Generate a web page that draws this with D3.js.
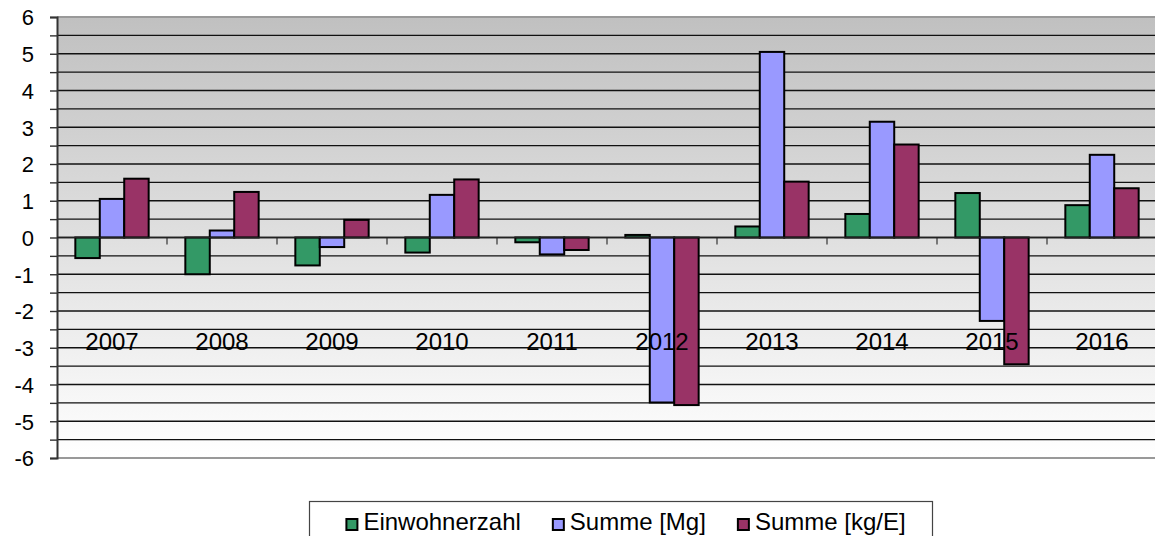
<!DOCTYPE html>
<html><head><meta charset="utf-8">
<script src="https://cdn.jsdelivr.net/npm/d3@7"></script>
<style>html,body{margin:0;padding:0;background:#fff;overflow:hidden}svg{display:block}</style>
</head><body>
<svg id="c" width="1155" height="536"></svg>
<script>
const years = ["2007","2008","2009","2010","2011","2012","2013","2014","2015","2016"];
const seriesNames = ["Einwohnerzahl","Summe [Mg]","Summe [kg/E]"];
const einwohnerzahl = [-0.56,-1.0,-0.76,-0.41,-0.13,0.07,0.30,0.64,1.21,0.88];
const summeMg       = [1.05,0.19,-0.26,1.16,-0.46,-4.49,5.05,3.15,-2.27,2.25];
const summeKgE      = [1.60,1.24,0.48,1.58,-0.34,-4.56,1.52,2.53,-3.45,1.34];
const yTicks = [-6,-5,-4,-3,-2,-1,0,1,2,3,4,5,6];
const colors = ["#339966","#9999FF","#993366"];
const seriesValues = [einwohnerzahl, summeMg, summeKgE];

const svg = d3.select("#c");
const L = 57, R = 1157, T = 17, B = 458;
const x0 = d3.scaleBand().domain(years).range([L, R]).padding(0);
const x1 = d3.scaleBand().domain(seriesNames).range([0, x0.bandwidth()]).paddingInner(0).paddingOuter(0.75);
const y = d3.scaleLinear().domain([-6, 6]).range([B, T]);
const FONT = "Liberation Sans, Arial, sans-serif";

// background gradient
const defs = svg.append("defs");
const g = defs.append("linearGradient").attr("id","bg").attr("x1",0).attr("y1",0).attr("x2",0).attr("y2",1);
g.append("stop").attr("offset","0%").attr("stop-color","#c0c0c0");
g.append("stop").attr("offset","100%").attr("stop-color","#ffffff");
svg.append("rect").attr("x",L).attr("y",T).attr("width",R-L).attr("height",B-T).attr("fill","url(#bg)");

// gridlines every 0.5
const gridVals = d3.range(-12, 13).map(d => d/2);
svg.append("g").selectAll("line").data(gridVals.filter(v => v > -6 && v < 6)).join("line")
  .attr("x1", L).attr("x2", R).attr("y1", d => y(d)).attr("y2", d => y(d))
  .attr("stroke", "#111").attr("stroke-width", 1.4);
// top & bottom border
svg.append("g").selectAll("line").data([-6, 6]).join("line")
  .attr("x1", L).attr("x2", R).attr("y1", d => y(d)).attr("y2", d => y(d))
  .attr("stroke", "#999").attr("stroke-width", 2.2);

// y axis
const yAxis = d3.axisLeft(y).tickValues(gridVals).tickSize(7).tickFormat(d => yTicks.includes(d) ? String(d) : "");
const ya = svg.append("g").attr("transform", `translate(${L},0)`).call(yAxis);
ya.select(".domain").attr("stroke", "#333").attr("stroke-width", 2);
ya.selectAll(".tick line").attr("stroke", "#333").attr("stroke-width", 1.4);
ya.selectAll(".tick text").attr("font-family", FONT).attr("font-size", 22).attr("fill", "#000").attr("x", -23).attr("dy", "0.36em");

// category ticks at zero line
svg.append("g").selectAll("line").data(years.slice(1)).join("line")
  .attr("x1", d => x0(d)).attr("x2", d => x0(d)).attr("y1", y(0)).attr("y2", y(0) + 7)
  .attr("stroke", "#333").attr("stroke-width", 1.2);

// bars
const groups = svg.append("g").selectAll("g").data(years).join("g")
  .attr("transform", d => `translate(${x0(d)},0)`);
groups.selectAll("rect").data((d, i) => seriesNames.map((s, k) => ({s, k, v: seriesValues[k][i]}))).join("rect")
  .attr("x", d => x1(d.s)).attr("width", x1.bandwidth())
  .attr("y", d => y(Math.max(0, d.v))).attr("height", d => Math.max(1, Math.abs(y(d.v) - y(0))))
  .attr("fill", d => colors[d.k]).attr("stroke", "#000").attr("stroke-width", 2);

// zero axis line
svg.append("line").attr("x1", L).attr("x2", R).attr("y1", y(0)).attr("y2", y(0)).attr("stroke", "#222").attr("stroke-width", 1.4);

// category labels
svg.append("g").selectAll("text").data(years).join("text")
  .attr("x", d => x0(d) + x0.bandwidth()/2).attr("y", 350)
  .attr("text-anchor", "middle").attr("font-family", FONT).attr("font-size", 24)
  .attr("fill", "#000").text(d => d);

// legend
const lg = svg.append("g");
lg.append("rect").attr("x", 309.5).attr("y", 501.5).attr("width", 623).attr("height", 60)
  .attr("fill", "#fff").attr("stroke", "#444").attr("stroke-width", 1.2);
const items = lg.selectAll("g").data(seriesNames).join("g");
items.append("rect").attr("width", 11).attr("height", 11).attr("y", 519)
  .attr("fill", (d, i) => colors[i]).attr("stroke", "#000").attr("stroke-width", 2);
items.append("text").attr("x", 17).attr("y", 530).attr("font-family", FONT)
  .attr("font-size", 24).attr("fill", "#000").text(d => d);
let widths = [];
items.each(function(){ widths.push(17 + d3.select(this).select("text").node().getComputedTextLength()); });
const gap = 32;
const total = d3.sum(widths) + gap * (widths.length - 1);
let cx = 626 - total / 2;
items.each(function(d, i){ d3.select(this).attr("transform", `translate(${cx},0)`); cx += widths[i] + gap; });
</script>
</body></html>
